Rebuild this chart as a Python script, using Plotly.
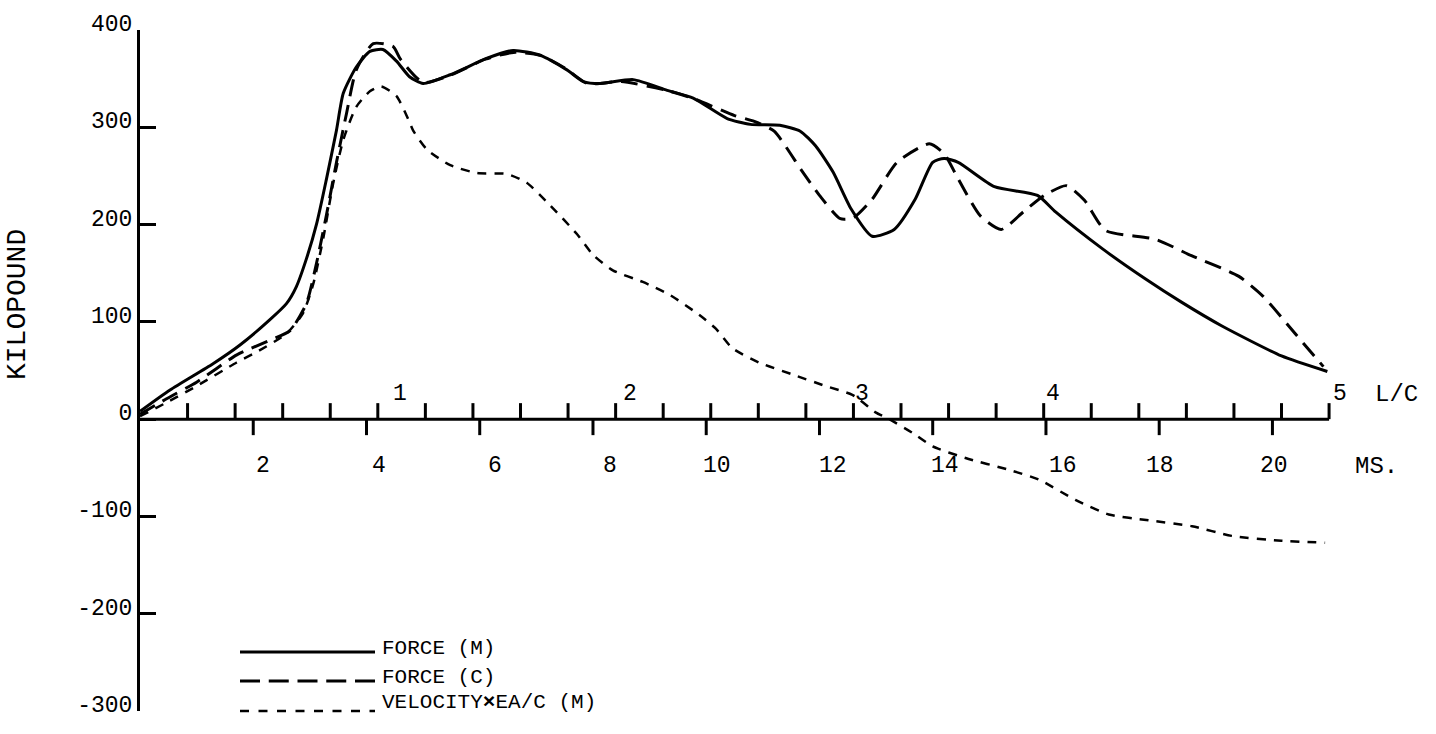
import plotly.graph_objects as go

# ---------------- data (time in ms, force in kilopound) ----------------
t_force_m = [0.0, 0.53, 1.29, 1.76, 2.29, 2.59, 2.76, 2.94, 3.12, 3.29, 3.47, 3.59, 3.82, 4.06, 4.29,
             4.53, 4.76, 5.0, 5.48, 6.13, 6.59, 7.07, 7.54, 7.83, 8.13, 8.71, 9.31, 9.77, 10.37,
             10.78, 11.3, 11.66, 11.93, 12.24, 12.56, 12.93, 13.32, 13.69, 14.0, 14.2, 14.45,
             15.09, 15.85, 16.17, 17.0, 17.76, 18.4, 19.1, 20.16, 20.97]
force_m = [8, 30, 57, 76, 102, 119, 136, 165, 201, 246, 297, 335, 362, 378, 380,
           368, 352, 345, 354, 371, 379, 374, 359, 347, 345, 349, 338, 330, 309,
           303, 302, 296, 281, 254, 216, 188, 195, 226, 264, 268, 264,
           239, 230, 213, 175, 144, 120, 96, 65, 49]

t_force_c = [0.0, 0.47, 1.0, 1.71, 2.29, 2.65, 2.94, 3.12, 3.29, 3.47, 3.65, 3.82, 4.12, 4.47, 4.6,
             5.0, 5.5, 6.1, 6.6, 7.07, 7.5, 7.9, 8.5, 9.3, 9.8, 10.5, 10.85, 11.2, 11.68, 12.0,
             12.37, 12.6, 12.93, 13.37, 13.94, 14.2, 14.45, 14.84, 15.21, 15.6, 15.97, 16.36,
             16.68, 17.05, 17.93, 18.57, 19.4, 19.84, 20.4, 20.9]
force_c = [5, 21, 38, 66, 81, 91, 119, 161, 209, 264, 315, 359, 386, 383, 370,
           346, 354, 370, 377, 374, 361, 345, 347, 338, 329, 312, 306, 296, 256, 230,
           206, 207, 226, 264, 283, 273, 247, 209, 195, 213, 230, 240,
           225, 194, 185, 168, 147, 126, 88, 54]

t_vel = [0.0, 0.5, 1.0, 1.7, 2.06, 2.59, 2.88, 3.06, 3.24, 3.41, 3.59, 3.82, 4.06, 4.26, 4.53,
         4.74, 4.83, 5.07, 5.48, 5.95, 6.48, 6.83, 7.24, 7.72, 8.0, 8.35, 8.88, 9.35, 9.88,
         10.17, 10.46, 10.94, 11.52, 12.11, 12.58, 12.99, 13.23, 13.64, 14.0, 14.58, 15.34,
         15.87, 16.52, 17.11, 17.81, 18.58, 19.28, 20.16, 20.93]
vel_ea_c = [3, 18, 34, 58, 69, 88, 109, 139, 187, 242, 287, 321, 337, 342, 332,
            308, 296, 277, 261, 253, 252, 243, 220, 190, 169, 153, 141, 128, 107,
            93, 73, 58, 46, 34, 25, 7, 0, -14, -28, -40, -52,
            -62, -83, -98, -104, -110, -120, -125, -127]

y_tick_vals = [-300, -200, -100, 0, 100, 200, 300, 400]
y_tick_text = ["-300", "-200", "-100", "0", "100", "200", "300", "400"]
ms_ticks = [2, 4, 6, 8, 10, 12, 14, 16, 18, 20]
lc_labels = ["1", "2", "3", "4", "5"]
lc_values = [1, 2, 3, 4, 5]
ms_per_lc = 4.2
lc_subdiv = 5
axis_end_ms = 21.0

# ---------------- layout geometry ----------------
W, H = 1436, 734
ML, MR, MT, MB = 140, 22, 30, 23
PW, PH = W - ML - MR, H - MT - MB
XR = [0, 22.5]
YR = [-300, 400]

def fx(px):
    return (px - ML) / PW

def fy(py):
    return (H - MB - py) / PH

FONT = "Liberation Mono, Courier New, monospace"
FS = 21      # legend text
FS_AX = 23   # axis numbers and unit labels

fig = go.Figure()
fig.add_trace(go.Scatter(x=t_force_m, y=force_m, mode="lines", name="FORCE (M)",
                         line=dict(color="black", width=3, shape="spline", smoothing=0.6)))
fig.add_trace(go.Scatter(x=t_force_c, y=force_c, mode="lines", name="FORCE (C)",
                         line=dict(color="black", width=3, dash="17px,9px", shape="spline", smoothing=0.6)))
fig.add_trace(go.Scatter(x=t_vel, y=vel_ea_c, mode="lines", name="VELOCITY×EA/C (M)",
                         line=dict(color="black", width=2.5, dash="9px,8px", shape="spline", smoothing=0.6)))

shapes = []
shapes.append(dict(type="line", xref="x", yref="y", x0=0, x1=axis_end_ms, y0=0, y1=0,
                   line=dict(color="black", width=3)))
n_up = int(round(len(lc_values) * lc_subdiv))
step = ms_per_lc / lc_subdiv
for k in range(1, n_up + 1):
    xv = k * step
    shapes.append(dict(type="line", xref="x", yref="y", ysizemode="pixel", yanchor=0,
                       x0=xv, x1=xv, y0=0, y1=16, line=dict(color="black", width=3)))
for v in ms_ticks:
    shapes.append(dict(type="line", xref="x", yref="y", ysizemode="pixel", yanchor=0,
                       x0=v, x1=v, y0=0, y1=-16, line=dict(color="black", width=3)))

leg_y = [652, 681, 711]
leg_dash = ["solid", "20px,8.75px", "9px,9.5px"]
leg_w = [3, 3, 2.5]
for yy, dd, ww in zip(leg_y, leg_dash, leg_w):
    shapes.append(dict(type="line", xref="paper", yref="paper", x0=fx(240), x1=fx(375),
                       y0=fy(yy), y1=fy(yy), line=dict(color="black", width=ww, dash=dd)))

annotations = []
ms_label_shift = [10, 13, 15, 17, 11, 14, 12, 17, 1, 2]
for v, s in zip(ms_ticks, ms_label_shift):
    annotations.append(dict(x=v, y=0, xref="x", yref="y", text=str(v), showarrow=False,
                            xshift=s, yshift=-47, xanchor="center", yanchor="middle",
                            font=dict(family=FONT, size=FS_AX, color="black")))
lc_label_shift = [22, 14, 9, -38, 11]
for lab, v, s in zip(lc_labels, lc_values, lc_label_shift):
    annotations.append(dict(x=v * ms_per_lc, y=0, xref="x", yref="y", text=lab, showarrow=False,
                            xshift=s, yshift=25, xanchor="center", yanchor="middle",
                            font=dict(family=FONT, size=FS_AX, color="black")))
annotations.append(dict(x=fx(1396), y=0, xref="paper", yref="y", text="L/C", showarrow=False,
                        yshift=25, xanchor="center", yanchor="middle",
                        font=dict(family=FONT, size=24, color="black")))
annotations.append(dict(x=fx(1376), y=0, xref="paper", yref="y", text="MS.", showarrow=False,
                        yshift=-47, xanchor="center", yanchor="middle",
                        font=dict(family=FONT, size=24, color="black")))
annotations.append(dict(x=fx(17), y=fy(305), xref="paper", yref="paper", text="KILOPOUND",
                        showarrow=False, textangle=-90, xanchor="center", yanchor="middle",
                        font=dict(family=FONT, size=28, color="black")))
leg_text = ["FORCE (M)", "FORCE (C)", "VELOCITY<b>×</b>EA/C (M)"]
leg_text_y = [648, 677, 702]
for tx, yy in zip(leg_text, leg_text_y):
    annotations.append(dict(x=fx(380), y=fy(yy), xref="paper", yref="paper", text=tx,
                            showarrow=False, xanchor="left", yanchor="middle",
                            font=dict(family=FONT, size=FS, color="black")))

fig.update_layout(
    width=W, height=H,
    margin=dict(l=ML, r=MR, t=MT, b=MB, autoexpand=False),
    paper_bgcolor="white", plot_bgcolor="white",
    showlegend=False,
    xaxis=dict(range=XR, visible=False, showgrid=False, zeroline=False),
    yaxis=dict(range=YR, showgrid=False, zeroline=False, showline=True, linecolor="black",
               linewidth=3, ticks="inside", ticklen=16, tickwidth=3, tickcolor="black",
               tickvals=y_tick_vals, ticktext=y_tick_text, ticklabelshift=-7,
               automargin=False,
               tickfont=dict(family=FONT, size=FS_AX, color="black")),
    shapes=shapes,
    annotations=annotations,
)

fig.write_html("out.html")
